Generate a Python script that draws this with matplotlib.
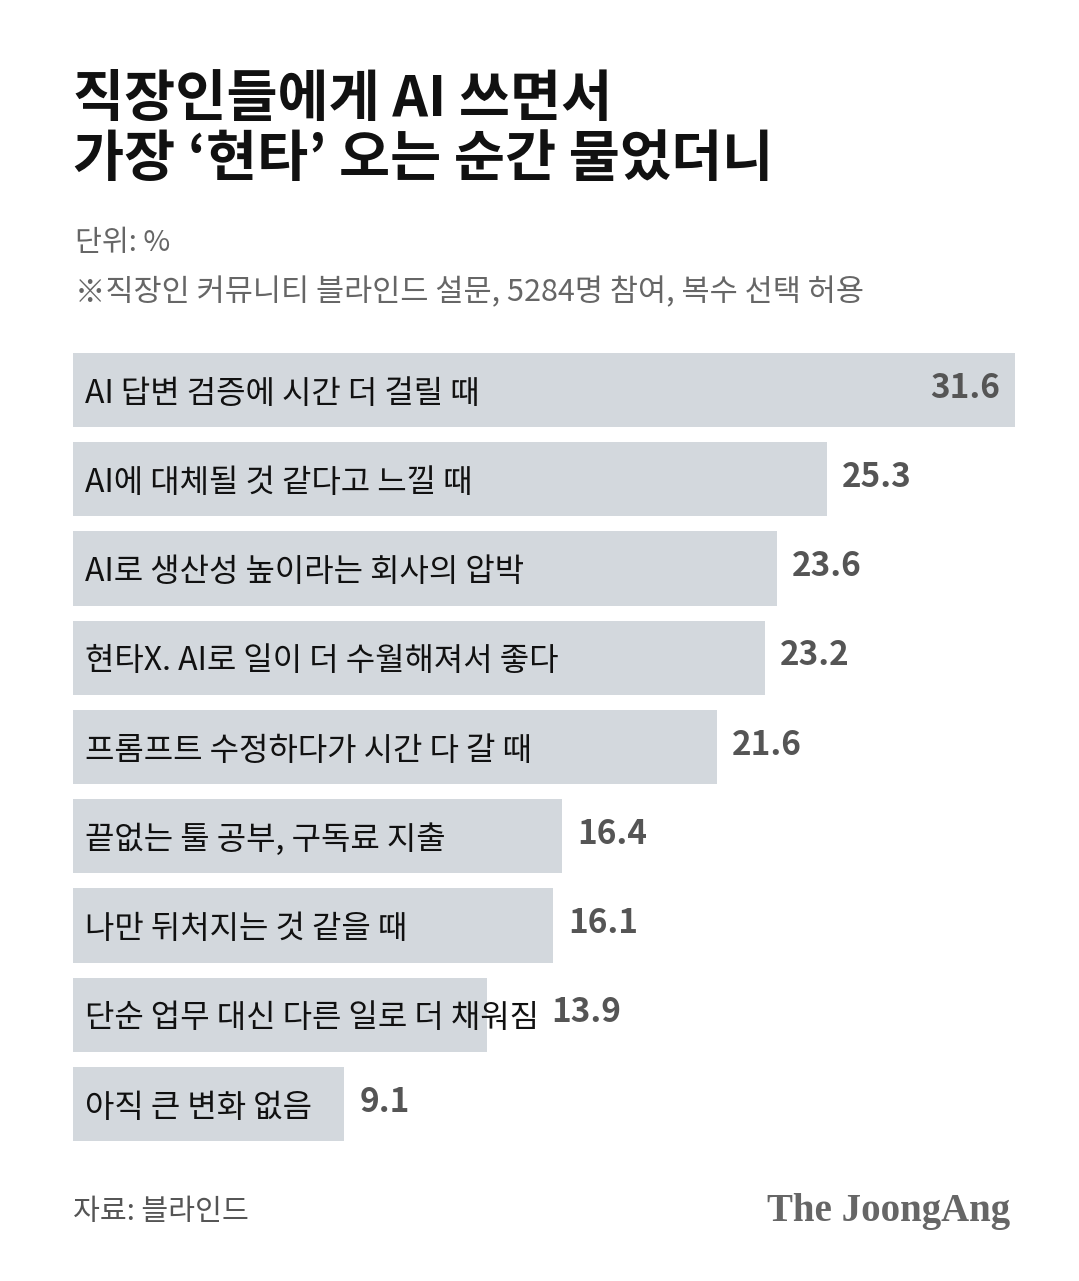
import matplotlib.pyplot as plt

plt.rcParams["font.family"] = ["Noto Sans CJK KR", "DejaVu Sans"]

categories = [
    "AI 답변 검증에 시간 더 걸릴 때",
    "AI에 대체될 것 같다고 느낄 때",
    "AI로 생산성 높이라는 회사의 압박",
    "현타X. AI로 일이 더 수월해져서 좋다",
    "프롬프트 수정하다가 시간 다 갈 때",
    "끝없는 툴 공부, 구독료 지출",
    "나만 뒤처지는 것 같을 때",
    "단순 업무 대신 다른 일로 더 채워짐",
    "아직 큰 변화 없음",
]
values = [31.6, 25.3, 23.6, 23.2, 21.6, 16.4, 16.1, 13.9, 9.1]

W, H = 1079, 1281
fig = plt.figure(figsize=(W / 100, H / 100), dpi=100)
fig.patch.set_facecolor("white")


def fx(x):
    return x / W


def fy(y):
    return 1 - y / H


# header
fig.text(fx(73), fy(100), "직장인들에게 AI 쓰면서", fontsize=40, fontweight="heavy",
         color="#111111", va="center", ha="left")
fig.text(fx(73), fy(160), "가장 ‘현타’ 오는 순간 물었더니", fontsize=40, fontweight="heavy",
         color="#111111", va="center", ha="left")
fig.text(fx(75), fy(243), "단위: %", fontsize=21, color="#666666", va="center")
fig.text(fx(75), fy(293), "※직장인 커뮤니티 블라인드 설문, 5284명 참여, 복수 선택 허용",
         fontsize=22, color="#666666", va="center")

# bars
ax = fig.add_axes([fx(73), fy(1141), fx(1015) - fx(73), fy(353) - fy(1141)])
ypos = list(range(len(values)))
ax.barh(ypos, values, height=0.83, color="#d3d8dd", left=0)
ax.set_xlim(0, max(values))
ax.set_ylim(len(values) - 1 + 0.415, -0.415)
ax.axis("off")

fig.canvas.draw()
renderer = fig.canvas.get_renderer()
inv = ax.transData.inverted()
px_per_unit = (fx(1015) - fx(73)) * W / max(values)

for i, (cat, v) in enumerate(zip(categories, values)):
    t = ax.text(12 / px_per_unit, i + 0.04, cat, fontsize=23, color="#111111",
                va="center", ha="left")
    if i == 0:
        ax.text(v - 15 / px_per_unit, i - 0.02, f"{v:.1f}", fontsize=24,
                fontweight="bold", color="#555555", va="center", ha="right")
        continue
    bb = t.get_window_extent(renderer)
    text_end = inv.transform((bb.x1, 0))[0]
    x = max(v + 15 / px_per_unit, text_end + 12 / px_per_unit)
    ax.text(x, i - 0.02, f"{v:.1f}", fontsize=24, fontweight="bold",
            color="#555555", va="center", ha="left")

# footer
fig.text(fx(73), fy(1212), "자료: 블라인드", fontsize=21, color="#555555", va="center")
fig.text(fx(1010), fy(1212), "The JoongAng", fontsize=28, fontweight="bold",
         family="Liberation Serif", color="#666666", va="center", ha="right")

fig.savefig("out.png", dpi=100)
